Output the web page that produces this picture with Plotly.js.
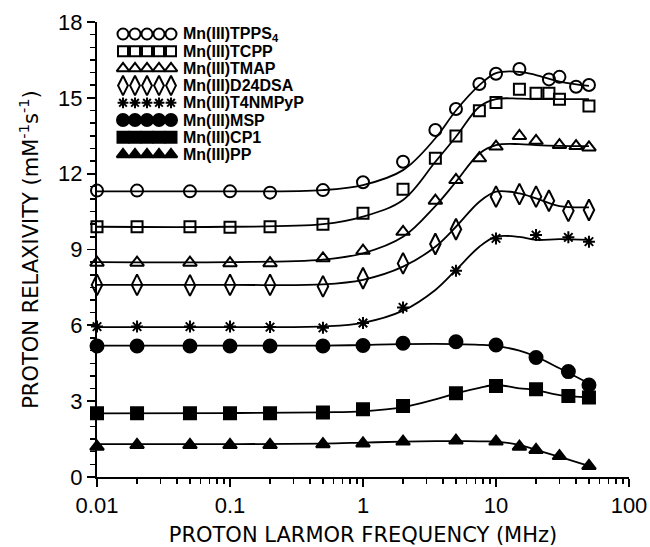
<!DOCTYPE html>
<html>
<head>
<meta charset="utf-8">
<script src="https://cdn.plot.ly/plotly-3.0.1.min.js"></script>
<style>html,body{margin:0;padding:0;background:#fff;} #chart{width:650px;height:547px;}</style>
</head>
<body>
<div id="chart"></div>
<script>
// ---- data ----
const seriesNames = ["Mn(III)TPPS<sub>4</sub>", "Mn(III)TCPP", "Mn(III)TMAP", "Mn(III)D24DSA",
                     "Mn(III)T4NMPyP", "Mn(III)MSP", "Mn(III)CP1", "Mn(III)PP"];
const freqLow = [0.01, 0.02, 0.05, 0.1, 0.2, 0.5, 1];

const tppsX = freqLow.concat([2, 3.5, 5, 7.5, 10, 15, 25, 30, 40, 50]);
const tppsY = [11.33, 11.33, 11.3, 11.3, 11.25, 11.35, 11.66, 12.47, 13.73, 14.56, 15.55, 15.95, 16.14, 15.73, 15.83, 15.44, 15.51];
const tcppX = freqLow.concat([2, 3.5, 5, 7.5, 10, 15, 20, 25, 30, 50]);
const tcppY = [9.9, 9.9, 9.9, 9.88, 9.9, 10.0, 10.43, 11.38, 12.61, 13.49, 14.49, 14.82, 15.34, 15.18, 15.18, 14.94, 14.68];
const tmapX = freqLow.concat([2, 3.5, 5, 7.5, 10, 15, 20, 30, 40, 50]);
const tmapY = [8.48, 8.48, 8.48, 8.46, 8.46, 8.65, 8.95, 9.70, 10.93, 11.75, 12.61, 13.07, 13.49, 13.30, 13.13, 13.09, 13.04];
const d24X = freqLow.concat([2, 3.5, 5, 10, 15, 20, 25, 35, 50]);
const d24Y = [7.6, 7.6, 7.58, 7.6, 7.6, 7.54, 7.86, 8.45, 9.22, 9.8, 11.09, 11.19, 11.09, 10.93, 10.53, 10.56];
const t4nX = freqLow.concat([2, 5, 10, 20, 35, 50]);
const t4nY = [5.95, 5.95, 5.95, 5.95, 5.93, 5.9, 6.09, 6.71, 8.16, 9.44, 9.57, 9.48, 9.31];
const mspX = freqLow.concat([2, 5, 10, 20, 35, 50]);
const mspY = [5.18, 5.18, 5.18, 5.18, 5.18, 5.18, 5.2, 5.29, 5.35, 5.22, 4.73, 4.17, 3.64];
const cp1X = freqLow.concat([2, 5, 10, 20, 35, 50]);
const cp1Y = [2.52, 2.52, 2.52, 2.52, 2.52, 2.55, 2.68, 2.81, 3.31, 3.6, 3.47, 3.2, 3.15];
const ppX = freqLow.concat([2, 5, 10, 15, 20, 30, 50]);
const ppY = [1.2, 1.27, 1.27, 1.27, 1.27, 1.3, 1.33, 1.40, 1.44, 1.40, 1.20, 1.07, 0.83, 0.44];

// fitted curves, read at these frequencies
const fitX = [0.01, 0.1, 0.5, 1, 2, 3.5, 5, 7.5, 10, 15, 20, 30, 50];
const tppsFit = [11.3, 11.3, 11.35, 11.55, 12.14, 13.4, 14.5, 15.5, 15.98, 16.03, 15.9, 15.64, 15.47];
const tcppFit = [9.9, 9.9, 10.0, 10.3, 10.96, 12.47, 13.46, 14.65, 14.95, 14.97, 14.95, 14.95, 14.95];
const tmapFit = [8.5, 8.5, 8.6, 8.85, 9.5, 10.72, 11.68, 12.8, 13.13, 13.17, 13.13, 13.1, 13.09];
const d24Fit  = [7.6, 7.6, 7.62, 7.8, 8.32, 9.11, 9.9, 10.89, 11.29, 11.22, 11.02, 10.72, 10.67];
const t4nFit  = [5.93, 5.93, 5.96, 6.1, 6.58, 7.4, 8.19, 9.11, 9.51, 9.5, 9.38, 9.41, 9.38];
const mspFit  = [5.2, 5.2, 5.2, 5.22, 5.26, 5.27, 5.26, 5.23, 5.18, 5.0, 4.76, 4.3, 3.7];
const cp1Fit  = [2.52, 2.53, 2.56, 2.6, 2.76, 3.07, 3.31, 3.53, 3.64, 3.51, 3.44, 3.24, 3.15];
const ppFit   = [1.3, 1.3, 1.32, 1.36, 1.4, 1.42, 1.42, 1.41, 1.4, 1.27, 1.07, 0.8, 0.44];

const yTicks = [0, 3, 6, 9, 12, 15, 18];

// ---- styles ----
const FONT = 'Liberation Sans, Arial, sans-serif';
const TITLEFONT = 'DejaVu Sans, Liberation Sans, sans-serif';
const symbols = ["circle-open", "square-open", "triangle-up-open", "diamond-tall-open",
                 "asterisk-open", "circle", "square", "triangle-up"];
const sizes = [12, 11, 12, 15, 10, 13, 12, 12];

const pts = [[tppsX, tppsY], [tcppX, tcppY], [tmapX, tmapY], [d24X, d24Y],
             [t4nX, t4nY], [mspX, mspY], [cp1X, cp1Y], [ppX, ppY]];
const fits = [tppsFit, tcppFit, tmapFit, d24Fit, t4nFit, mspFit, cp1Fit, ppFit];

const traces = [];
fits.forEach(function (f) {
  traces.push({x: fitX, y: f, mode: 'lines', type: 'scatter', showlegend: false,
    line: {color: '#000', width: 1.8, shape: 'spline', smoothing: 1}, hoverinfo: 'skip', cliponaxis: false});
});
pts.forEach(function (p, i) {
  traces.push({x: p[0], y: p[1], mode: 'markers', type: 'scatter', showlegend: false, cliponaxis: false,
    marker: {symbol: symbols[i], size: sizes[i], color: '#000', line: {color: '#000', width: 2}}});
});

// custom legend: five sample markers per row, drawn on hidden pixel-like axes
const legX0 = 123, legDX = 12, legY0 = 34, legDY = 17.2, legTextX = 181;
const annotations = [];
seriesNames.forEach(function (name, i) {
  const xs = [], ys = [];
  for (let k = 0; k < 5; k++) { xs.push(legX0 + k * legDX); ys.push(legY0 + i * legDY); }
  traces.push({x: xs, y: ys, xaxis: 'x2', yaxis: 'y2', mode: 'markers', type: 'scatter', showlegend: false,
    cliponaxis: false, hoverinfo: 'skip',
    marker: {symbol: symbols[i], size: sizes[i] - 1, color: '#000', line: {color: '#000', width: 2}}});
  annotations.push({xref: 'x2', yref: 'y2', x: legTextX, y: legY0 + i * legDY, text: '<b>' + name + '</b>',
    showarrow: false, xanchor: 'left', yanchor: 'middle',
    font: {family: FONT, size: 16, color: '#000'}});
});

const minorX = [];
[0.01, 0.1, 1, 10].forEach(function (d) { for (let m = 2; m <= 9; m++) minorX.push(d * m); });

const layout = {
  width: 650, height: 547,
  margin: {l: 97, r: 21, t: 22, b: 70},
  paper_bgcolor: '#fff', plot_bgcolor: '#fff',
  font: {family: FONT, color: '#000'},
  showlegend: false,
  xaxis: {
    type: 'log', range: [-2, 2], dtick: 1,
    showline: true, linecolor: '#000', linewidth: 2, mirror: false,
    showgrid: false, zeroline: false,
    ticks: 'outside', ticklen: 8, tickwidth: 1.8, tickcolor: '#000',
    tickfont: {size: 22, family: FONT},
    minor: {tickvals: minorX, ticks: 'outside', ticklen: 5, tickwidth: 1.5, tickcolor: '#000', showgrid: false},
    title: {text: 'PROTON LARMOR FREQUENCY (MHz)', font: {size: 21, family: TITLEFONT}, standoff: 12}
  },
  yaxis: {
    range: [0, 18], tickvals: yTicks,
    showline: true, linecolor: '#000', linewidth: 2, mirror: false,
    showgrid: false, zeroline: false,
    ticks: 'outside', ticklen: 8, tickwidth: 1.8, tickcolor: '#000',
    tickfont: {size: 22, family: FONT},
    minor: {dtick: 0.5, ticks: 'outside', ticklen: 5, tickwidth: 1.5, tickcolor: '#000', showgrid: false},
    title: {text: 'PROTON RELAXIVITY (mM<sup>-1</sup>s<sup>-1</sup>)', font: {size: 21, family: TITLEFONT}, standoff: 14}
  },
  xaxis2: {overlaying: 'x', range: [97, 629], visible: false, fixedrange: true},
  yaxis2: {overlaying: 'y', range: [477, 22], visible: false, fixedrange: true},
  annotations: annotations
};

Plotly.newPlot('chart', traces, layout, {staticPlot: true, displayModeBar: false});
</script>
</body>
</html>
